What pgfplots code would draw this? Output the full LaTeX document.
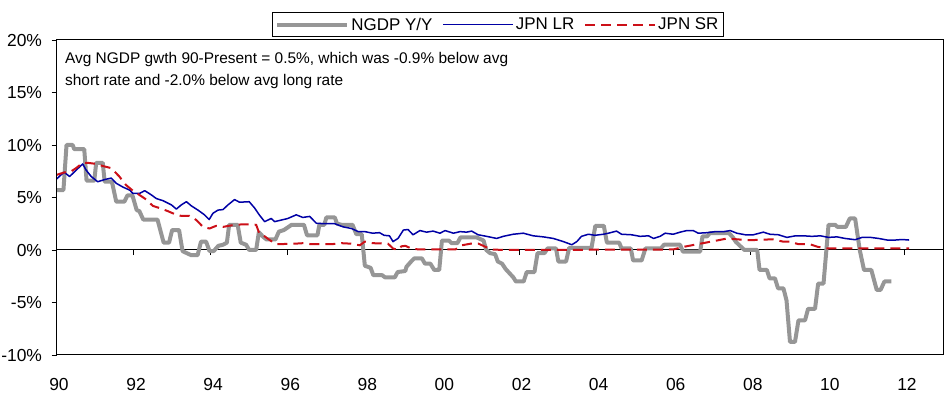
\documentclass[border=0pt]{standalone}
\usepackage{fontspec}
\setmainfont{Liberation Sans}
\usepackage{pgfplots}
\pgfplotsset{compat=1.18}
\definecolor{ngdp}{RGB}{150,150,150}
\definecolor{lr}{RGB}{0,0,165}
\definecolor{sr}{RGB}{204,16,24}
\begin{document}
\begin{tikzpicture}
\path[use as bounding box] (0,0) rectangle (952bp,399bp);
\begin{axis}[
  name=ax,
  at={(56.5bp,44bp)}, anchor=south west,
  scale only axis, width=886.5bp, height=315bp,
  xmin=1990, xmax=2013, ymin=-10, ymax=20,
  axis x line*=middle, axis y line*=left,
  hide obscured x ticks=false, hide obscured y ticks=false,
  axis line style={line width=1bp, black},
  tick align=outside, major tick length=5bp,
  tick style={line width=0.9bp, black},
  xtick={1990,1992,...,2012},
  xticklabels={90,92,94,96,98,00,02,04,06,08,10,12},
  ytick={-10,-5,0,5,10,15,20},
  yticklabels={-10\%,-5\%,0\%,5\%,10\%,15\%,20\%},
  ticklabel style={font=\fontsize{17.5}{20}\selectfont},
  xticklabel style={anchor=center, yshift=-129bp, xshift=2.5bp},
  yticklabel style={xshift=-6bp},
  legend columns=3,
  legend style={at={(0.498,1)}, anchor=south, yshift=3bp, draw=black, line width=1bp,
    font=\fontsize{17}{20}\selectfont, inner xsep=3bp, inner ysep=3bp,
    /tikz/every even column/.append style={column sep=8bp}},
  legend image code/.code={\draw[#1] (0bp,0bp) -- (70bp,0bp);},
]
\addplot[ngdp, line width=4bp, line join=round] coordinates {
(1990.00,5.7)(1990.18,5.7)(1990.26,10.0)(1990.42,10.0)(1990.46,9.6)(1990.72,9.6)
(1990.78,6.6)(1990.98,6.6)(1991.03,8.3)(1991.20,8.3)(1991.25,6.5)(1991.42,6.5)
(1991.45,6.3)(1991.55,4.6)(1991.76,4.6)(1991.84,5.2)(1991.97,5.2)(1992.08,3.8)
(1992.15,3.7)(1992.25,2.9)(1992.62,2.9)(1992.78,0.7)(1992.92,0.7)(1993.00,1.9)
(1993.18,1.9)(1993.27,-0.1)(1993.38,-0.3)(1993.50,-0.5)(1993.66,-0.5)(1993.75,0.8)
(1993.88,0.8)(1993.97,-0.1)(1994.08,-0.1)(1994.20,0.4)(1994.32,0.5)(1994.42,0.7)
(1994.48,2.4)(1994.70,2.4)(1994.78,0.7)(1994.92,0.5)(1995.00,0.0)(1995.18,0.0)
(1995.25,1.7)(1995.35,1.3)(1995.45,1.0)(1995.68,1.0)(1995.77,1.75)(1995.90,1.9)
(1996.10,2.4)(1996.42,2.4)(1996.50,1.4)(1996.77,1.4)(1996.82,2.4)(1996.95,2.4)
(1997.00,3.1)(1997.22,3.1)(1997.28,2.5)(1997.40,2.4)(1997.68,2.4)(1997.78,1.5)
(1997.92,1.5)(1998.00,-1.5)(1998.15,-1.7)(1998.22,-2.4)(1998.45,-2.4)(1998.52,-2.6)
(1998.78,-2.6)(1998.85,-2.1)(1999.05,-2.0)(1999.08,-1.6)(1999.20,-1.1)(1999.28,-0.8)
(1999.48,-0.8)(1999.56,-1.3)(1999.70,-1.3)(1999.80,-1.9)(1999.93,-1.9)(2000.00,0.9)
(2000.18,0.9)(2000.25,0.65)(2000.40,0.65)(2000.48,1.2)(2000.90,1.2)(2001.08,0.9)
(2001.15,0.0)(2001.25,-0.3)(2001.38,-0.4)(2001.45,-1.1)(2001.56,-1.3)(2001.65,-1.8)
(2001.75,-2.2)(2001.85,-2.6)(2001.92,-3.0)(2002.12,-3.0)(2002.20,-2.1)(2002.40,-2.1)
(2002.48,-0.3)(2002.66,-0.3)(2002.74,0.15)(2002.96,0.15)(2003.02,-1.1)(2003.22,-1.1)
(2003.30,0.2)(2003.88,0.2)(2003.98,2.3)(2004.20,2.3)(2004.28,0.7)(2004.60,0.7)
(2004.66,0.15)(2004.90,0.15)(2004.96,-1.0)(2005.18,-1.0)(2005.28,0.15)(2005.68,0.15)
(2005.76,0.5)(2006.18,0.5)(2006.25,-0.15)(2006.70,-0.15)(2006.76,1.3)(2006.88,1.3)
(2006.95,1.6)(2007.45,1.6)(2007.55,1.2)(2007.62,0.8)(2007.76,0.3)(2007.85,0.0)
(2008.18,0.0)(2008.24,-1.9)(2008.43,-1.9)(2008.50,-2.7)(2008.64,-2.7)(2008.72,-3.65)
(2008.86,-3.65)(2008.94,-4.8)(2009.03,-8.75)(2009.16,-8.75)(2009.25,-6.7)(2009.42,-6.7)
(2009.50,-5.6)(2009.68,-5.6)(2009.76,-3.2)(2009.90,-3.2)(2010.03,2.4)(2010.20,2.4)
(2010.26,2.2)(2010.48,2.2)(2010.58,3.0)(2010.72,3.0)(2010.84,0.0)(2010.95,-1.9)
(2011.14,-1.9)(2011.28,-3.8)(2011.38,-3.8)(2011.48,-3.0)(2011.66,-3.0)
};
\addlegendentry{NGDP Y/Y}
\addplot[lr, line width=1.5bp, line join=round] coordinates {
(1990.00,6.75)(1990.10,7.1)(1990.20,7.4)(1990.34,7.0)(1990.51,7.6)(1990.68,8.2)
(1990.77,7.6)(1990.90,7.0)(1991.07,6.5)(1991.24,6.7)(1991.42,6.85)(1991.55,6.35)
(1991.72,6.0)(1991.90,5.7)(1991.98,5.4)(1992.16,5.4)(1992.29,5.65)(1992.46,5.25)
(1992.59,4.9)(1992.76,4.7)(1992.98,4.3)(1993.11,3.9)(1993.24,4.3)(1993.37,4.6)
(1993.50,4.2)(1993.67,3.8)(1993.84,3.35)(1993.96,2.9)(1994.06,3.5)(1994.19,3.8)
(1994.32,3.85)(1994.45,4.3)(1994.62,4.8)(1994.75,4.55)(1995.00,4.6)(1995.14,4.0)
(1995.26,3.35)(1995.40,2.7)(1995.57,3.0)(1995.66,2.7)(1995.83,2.85)(1996.00,3.0)
(1996.22,3.35)(1996.39,3.1)(1996.57,3.2)(1996.74,2.55)(1996.96,2.5)(1997.22,2.5)
(1997.44,2.2)(1997.65,2.05)(1997.83,1.75)(1998.00,1.75)(1998.20,1.6)(1998.38,1.65)
(1998.50,1.4)(1998.64,1.35)(1998.73,0.8)(1998.86,1.1)(1999.00,1.9)(1999.12,1.95)
(1999.25,1.45)(1999.43,1.85)(1999.60,1.7)(1999.77,1.8)(1999.95,1.6)(2000.08,1.85)
(2000.30,1.6)(2000.47,1.75)(2000.64,1.7)(2000.77,1.8)(2000.94,1.45)(2001.16,1.3)
(2001.42,1.1)(2001.59,1.3)(2001.85,1.5)(2002.11,1.6)(2002.37,1.35)(2002.63,1.25)
(2002.89,1.1)(2003.15,0.8)(2003.37,0.5)(2003.50,0.8)(2003.62,1.3)(2003.80,1.5)
(2003.97,1.4)(2004.19,1.5)(2004.32,1.6)(2004.53,1.8)(2004.66,1.5)(2004.92,1.45)
(2005.14,1.3)(2005.36,1.35)(2005.49,1.1)(2005.66,1.3)(2005.79,1.6)(2006.00,1.5)
(2006.18,1.7)(2006.35,1.85)(2006.52,1.85)(2006.65,1.6)(2006.88,1.65)(2007.09,1.75)
(2007.31,1.75)(2007.48,1.85)(2007.65,1.6)(2007.87,1.45)(2008.08,1.45)(2008.34,1.7)
(2008.51,1.5)(2008.73,1.45)(2008.95,1.2)(2009.17,1.35)(2009.38,1.35)(2009.60,1.3)
(2009.82,1.35)(2010.03,1.2)(2010.25,1.25)(2010.46,1.1)(2010.72,0.98)(2010.90,1.2)
(2011.12,1.2)(2011.33,1.1)(2011.55,0.95)(2011.77,0.95)(2011.94,1.0)(2012.12,0.95)
};
\addlegendentry{JPN LR}
\addplot[sr, line width=2bp, dash pattern=on 10bp off 6bp] coordinates {
(1990.00,7.15)(1990.21,7.4)(1990.34,7.4)(1990.51,7.8)(1990.68,8.3)(1990.81,8.3)
(1991.03,8.2)(1991.20,8.0)(1991.42,7.8)(1991.63,7.0)(1991.80,6.2)(1991.98,5.65)
(1992.15,5.25)(1992.33,4.8)(1992.50,4.2)(1992.67,4.0)(1992.89,3.7)(1993.11,3.35)
(1993.24,3.25)(1993.45,3.25)(1993.63,2.85)(1993.80,2.2)(1993.97,2.05)(1994.14,2.3)
(1994.32,2.2)(1994.62,2.4)(1994.88,2.45)(1995.18,2.4)(1995.26,1.6)(1995.40,1.3)
(1995.53,0.95)(1995.70,0.55)(1996.18,0.6)(1996.40,0.65)(1996.61,0.55)(1997.13,0.55)
(1997.39,0.65)(1997.65,0.6)(1997.87,0.45)(1998.00,0.8)(1998.20,0.65)(1998.60,0.6)
(1998.73,0.15)(1998.86,0.0)(1998.95,0.35)(1999.05,0.4)(1999.20,0.15)(1999.40,0.05)
(2000.35,0.05)(2000.52,0.45)(2000.74,0.6)(2000.95,0.6)(2001.13,0.3)(2001.30,0.05)
(2001.60,0.0)(2003.50,0.02)(2006.00,0.05)(2006.27,0.3)(2006.70,0.6)(2007.13,0.9)
(2007.40,1.1)(2007.87,0.95)(2008.10,0.95)(2008.45,1.0)(2008.60,1.0)(2008.85,0.8)
(2009.03,0.8)(2009.25,0.55)(2009.55,0.55)(2009.75,0.3)(2010.00,0.15)(2012.12,0.15)
};
\addlegendentry{JPN SR}
\node[anchor=north west, align=left, inner sep=0pt, font=\fontsize{15.5}{22}\selectfont]
  at (rel axis cs:0.0095,0.962)
  {Avg NGDP gwth 90-Present = 0.5\%, which was -0.9\% below avg\\short rate and -2.0\% below avg long rate};
\end{axis}
\draw[black, line width=1bp] (ax.south west) rectangle (ax.north east);
\end{tikzpicture}
\end{document}
